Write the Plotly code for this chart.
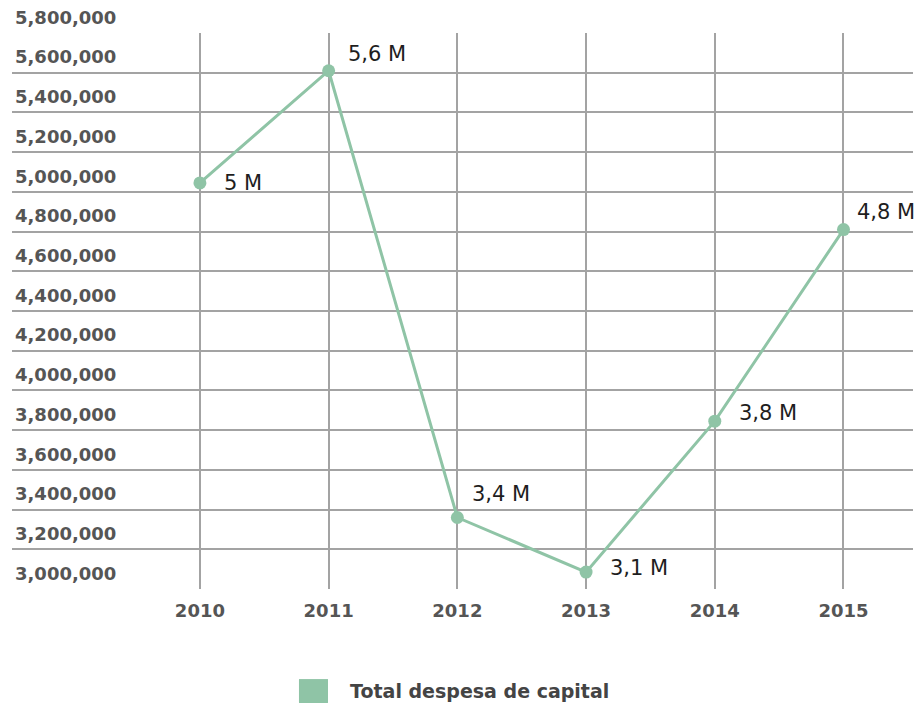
import plotly.graph_objects as go

# Capital expenditure by year
years = ["2010", "2011", "2012", "2013", "2014", "2015"]
despesa_capital = [5045000, 5610000, 3360000, 3085000, 3845000, 4810000]
series_name = "Total despesa de capital"

# offsets (px) of each value label from its point
label_dx = [22, 17, 13, 22, 22, 12]
label_dy = [0, 17, 24, 4, 8, 18]

LINE_COLOR = "#8fc4a6"
GRID_COLOR = "#a3a3a3"
TICK_FONT = dict(family="DejaVu Sans", size=18, color="#555555", weight="bold")


def short_label(v):
    txt = f"{v / 1e6:.1f}".replace(".", ",")
    if txt.endswith(",0"):
        txt = txt[:-2]
    return f"{txt} M"


fig = go.Figure()
fig.add_trace(go.Scatter(
    x=years,
    y=despesa_capital,
    mode="lines+markers",
    line=dict(color=LINE_COLOR, width=3),
    marker=dict(color=LINE_COLOR, size=13),
    name=series_name,
    showlegend=False,
))

annotations = []
for i, (v, dx, dy) in enumerate(zip(despesa_capital, label_dx, label_dy)):
    # category axis: place by category index
    annotations.append(dict(
        x=i, y=v, xref="x", yref="y",
        text=short_label(v), showarrow=False,
        xanchor="left", yanchor="middle",
        xshift=dx, yshift=dy,
        font=dict(family="DejaVu Sans", size=21, color="#1e1e1e"),
    ))

# legend drawn as a swatch plus caption below the plot
annotations.append(dict(
    x=0.373, y=-0.183, xref="paper", yref="paper",
    text=series_name, showarrow=False,
    xanchor="left", yanchor="middle",
    font=dict(family="DejaVu Sans", size=19, color="#444444", weight="bold"),
))

fig.update_layout(
    width=920, height=704,
    margin=dict(l=12, r=7, t=33, b=115),
    paper_bgcolor="white", plot_bgcolor="white",
    annotations=annotations,
    shapes=[dict(
        type="rect", xref="paper", yref="paper",
        x0=0.3185, x1=0.3507, y0=-0.205, y1=-0.162,
        fillcolor=LINE_COLOR, line=dict(width=0),
    )],
    xaxis=dict(
        type="category",
        range=[-1.46, 5.54],
        showgrid=True, gridcolor=GRID_COLOR, gridwidth=1.5,
        showline=False, zeroline=False,
        ticks="", ticklabelstandoff=9,
        tickfont=TICK_FONT,
    ),
    yaxis=dict(
        range=[3000000, 5800000],
        dtick=200000, tick0=3000000,
        tickformat=",",
        ticklabelposition="inside top",
        ticklabeloverflow="allow",
        ticklabelshift=-3,
        showgrid=True, gridcolor=GRID_COLOR, gridwidth=1.5,
        showline=False, zeroline=False,
        ticks="",
        tickfont=TICK_FONT,
    ),
)

fig.write_html("out.html")
